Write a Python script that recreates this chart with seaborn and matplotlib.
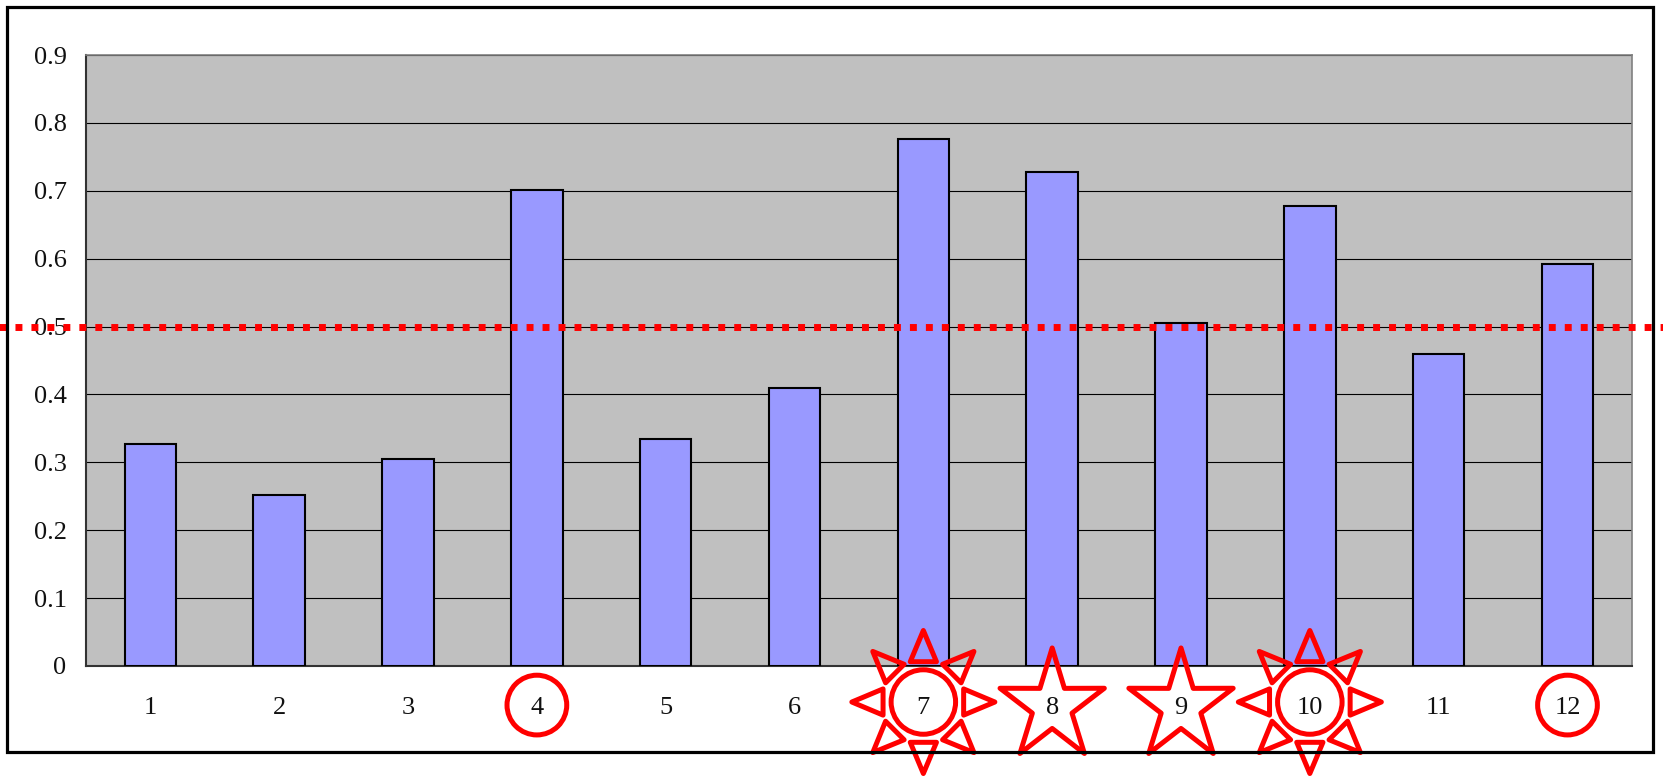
import matplotlib
matplotlib.use('Agg')
import matplotlib.pyplot as plt
import numpy as np
import pandas as pd
import seaborn as sns
from matplotlib.markers import MarkerStyle
from matplotlib.patches import Rectangle
from matplotlib.path import Path

# data
categories = ['1', '2', '3', '4', '5', '6', '7', '8', '9', '10', '11', '12']
values = [0.327, 0.252, 0.305, 0.701, 0.335, 0.410, 0.776, 0.728, 0.505, 0.678, 0.460, 0.592]
threshold = 0.5
ytick_values = [0, 0.1, 0.2, 0.3, 0.4, 0.5, 0.6, 0.7, 0.8, 0.9]
ytick_labels = ['0', '0.1', '0.2', '0.3', '0.4', '0.5', '0.6', '0.7', '0.8', '0.9']
# symbol drawn round each category label
highlight = ['', '', '', 'circle', '', '', 'sun', 'star', 'star', 'sun', '', 'circle']

sns.set_theme(style='white')
plt.rcParams['font.family'] = ['Liberation Serif', 'DejaVu Serif']

df = pd.DataFrame({'cat': categories, 'val': values})

fig = plt.figure(figsize=(16.63, 7.78), dpi=100)
ax = fig.add_axes([0.0517, 0.1440, 0.9296, 0.7853])
ax.set_facecolor('#C0C0C0')

sns.barplot(data=df, x='cat', y='val', color='#9999FF', edgecolor='black',
            linewidth=1.5, width=0.4, saturation=1, ax=ax, zorder=3)

ax.set_ylim(0, 0.9)
ax.set_xlim(-0.5, len(categories) - 0.5)
ax.set_yticks(ytick_values)
ax.set_yticklabels(ytick_labels)
ax.yaxis.grid(True, color='black', linewidth=0.8, zorder=1)
ax.set_axisbelow(True)
ax.set_xlabel('')
ax.set_ylabel('')
ax.tick_params(axis='y', length=0, pad=14, labelsize=19, colors='#111111')
ax.tick_params(axis='x', length=0, pad=22, labelsize=19, colors='#111111')
ax.set_xticks(np.arange(len(categories)) - 0.5, minor=True)
ax.tick_params(axis='x', which='minor', direction='in', length=6, width=1, color='#222222')

for s in ['top', 'right']:
    ax.spines[s].set_color('#808080')
    ax.spines[s].set_linewidth(1.2)
for s in ['left', 'bottom']:
    ax.spines[s].set_color('#333333')
    ax.spines[s].set_linewidth(1.5)

# red dotted line, runs across the whole picture
ax.axhline(threshold, xmin=-0.06, xmax=1.03, color='red', linewidth=5,
           linestyle=(0, (1, 1.3)), clip_on=False, zorder=10)

# custom marker shapes
star_path = Path.unit_regular_star(5, innerCircle=0.38)
star_marker = MarkerStyle(Path(star_path.vertices * [0.94, 1.0], star_path.codes), joinstyle='miter')

sun_parts = [Path.circle((0, 0), 32 / 71)]
for k in range(8):
    a = np.pi / 2 + k * np.pi / 4
    tip = np.array([np.cos(a), np.sin(a)])
    side = np.array([-np.sin(a), np.cos(a)])
    base = tip * 40 / 71
    tri = [tip, base + side * 13 / 71, base - side * 13 / 71, tip]
    sun_parts.append(Path(tri, [Path.MOVETO, Path.LINETO, Path.LINETO, Path.CLOSEPOLY]))
sun_marker = MarkerStyle(Path.make_compound_path(*sun_parts), joinstyle='miter')

shapes = {
    'circle': ('o', 43 ** 2, -0.064),
    'sun': (sun_marker, 103 ** 2, -0.059),
    'star': (star_marker, 84 ** 2, -0.066),
}
xt = ax.get_xaxis_transform()
for i, h in enumerate(highlight):
    if not h:
        continue
    m, size, yy = shapes[h]
    ax.scatter([i], [yy], marker=m, s=size, facecolors='none', edgecolors='red',
               linewidths=3.6, transform=xt, clip_on=False, zorder=12)

# outer frame
fig.patches.append(Rectangle((0.0042, 0.0334), 0.9898, 0.9576, transform=fig.transFigure,
                             fill=False, edgecolor='black', linewidth=2.3, zorder=0))

fig.savefig('out.png', dpi=100)
